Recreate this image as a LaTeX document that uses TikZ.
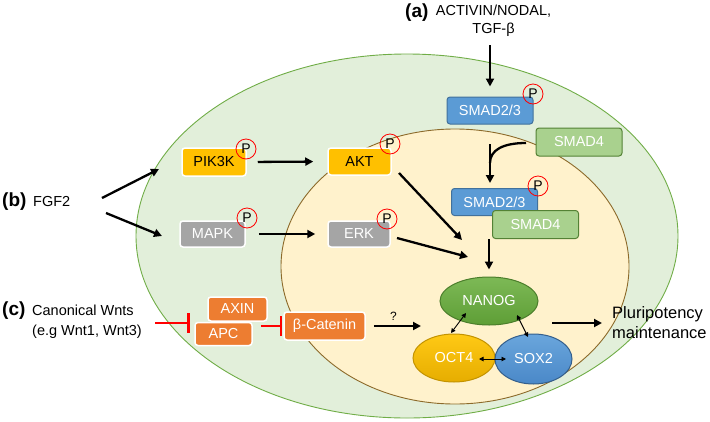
\documentclass[tikz,border=0pt]{standalone}
\usepackage{fontspec}
\setmainfont{Liberation Sans}
\usetikzlibrary{arrows.meta,shapes.geometric}
\definecolor{cellfill}{HTML}{E2EFDA}
\definecolor{cellline}{HTML}{70AD47}
\definecolor{nucfill}{HTML}{FFF2CC}
\definecolor{nucline}{HTML}{8C6A2A}
\definecolor{smadblue}{HTML}{5B9BD5}
\definecolor{smadblueline}{HTML}{41719C}
\definecolor{smadgreen}{HTML}{A9D18E}
\definecolor{smadgreenline}{HTML}{548235}
\definecolor{goldbox}{HTML}{FFC000}
\definecolor{greybox}{HTML}{A5A5A5}
\definecolor{orangebox}{HTML}{ED7D31}
\definecolor{nanogtop}{HTML}{7DB956}
\definecolor{nanogbot}{HTML}{5E9E36}
\definecolor{octtop}{HTML}{FFC915}
\definecolor{octbot}{HTML}{E6AD00}
\definecolor{soxtop}{HTML}{6AA6DC}
\definecolor{soxbot}{HTML}{4A88C8}
\begin{document}
\begin{tikzpicture}[x=1pt,y=-1pt,
  font=\fontsize{14.5}{16}\selectfont,
  box/.style={rectangle, rounded corners=3pt, inner sep=0pt, line width=1pt},
  smadb/.style={box, fill=smadblue, draw=smadblueline, text=white, minimum width=86pt, minimum height=27pt},
  smadg/.style={box, fill=smadgreen, draw=smadgreenline, text=white, minimum width=86pt, minimum height=28pt},
  goldb/.style={box, fill=goldbox, draw=white, line width=1.5pt, text=black, minimum height=27pt},
  greyb/.style={box, fill=greybox, draw=white, line width=1.5pt, text=white, minimum height=26pt},
  orangeb/.style={box, fill=orangebox, draw=white, line width=1.5pt, text=white},
  pc/.style={circle, draw=red, line width=0.8pt, minimum size=20pt, inner sep=0pt, font=\fontsize{14}{14}\selectfont},
  tf/.style={ellipse, inner sep=0pt, line width=1pt, text=white},
  arr/.style={line width=2.3pt, -{Triangle[length=8pt,width=8pt]}},
  inh/.style={draw=red, line width=2.3pt, -{Bar[width=20pt,line width=2.6pt]}},
  dbl/.style={line width=0.9pt, {Triangle[length=4.5pt,width=4.5pt]}-{Triangle[length=4.5pt,width=4.5pt]}},
  lbl/.style={font=\bfseries\fontsize{19}{19}\selectfont, inner sep=0pt}
]
\useasboundingbox (0,0) rectangle (710,421);

% cell and nucleus
\draw[fill=cellfill, draw=cellline, line width=0.9pt] (407,236) ellipse [x radius=271pt, y radius=182pt];
\draw[fill=nucfill, draw=nucline, line width=0.9pt] (455,266.5) ellipse [x radius=174pt, y radius=137.5pt];

% (a) TGF-beta branch
\node[lbl, anchor=west] (alab) at (405,13) {(a)};
\node[align=center, inner sep=0pt, font=\fontsize{14.5}{17.5}\selectfont] (atext) at (493.5,20.5) {ACTIVIN/NODAL,\\TGF-β};
\node[smadb] (s23a) at (490,110.5) {SMAD2/3};
\node[pc] (p1) at (533,94) {P};
\node[smadg] (s4a) at (579,142) {SMAD4};
\node[smadb] (s23b) at (494.5,202) {SMAD2/3};
\node[pc] (p2) at (538,186) {P};
\node[smadg] (s4b) at (535.5,224.5) {SMAD4};

\coordinate (ain) at (490,45);
\draw[arr, shorten >=10pt] (ain) -- (s23a.north);
\coordinate (jtop) at (490,144);
\coordinate (cstart) at (526,143);
\coordinate (jmerge) at (490,163);
\draw[arr, shorten >=5pt] (jtop) -- (jtop |- s23b.north);
\draw[line width=2.3pt] (cstart) .. controls (503,143) and (490,150) .. (jmerge);

% (b) FGF2 branch
\node[lbl, anchor=west] (blab) at (2,202) {(b)};
\node[anchor=west, inner sep=0pt] (fgf) at (33,202) {FGF2};
\node[goldb, minimum width=64pt, minimum height=28pt] (pik) at (214,162) {PIK3K};
\node[pc] (p3) at (246,149) {P};
\node[goldb, minimum width=63pt] (akt) at (359.5,161.5) {AKT};
\node[pc] (p4) at (390,144) {P};
\node[greyb, minimum width=65pt] (mapk) at (212.5,234) {MAPK};
\node[pc] (p5) at (247,218) {P};
\node[greyb, minimum width=62pt] (erk) at (359,234) {ERK};
\node[pc] (p6) at (387,219) {P};

\coordinate (b1s) at (102,198);
\coordinate (b1e) at (159,169);
\coordinate (b2s) at (106,213);
\coordinate (b2e) at (162,236);
\draw[arr] (b1s) -- (b1e);
\draw[arr] (b2s) -- (b2e);
\draw[arr, shorten <=11pt, shorten >=14pt] (pik.east) -- (akt.west);
\draw[arr, shorten <=13pt, shorten >=12pt] (mapk.east) -- (erk.west);
\coordinate (akts) at (399,173);
\coordinate (akte) at (462,240);
\coordinate (erks) at (397,238);
\coordinate (erke) at (468,257);
\draw[arr] (akts) -- (akte);
\draw[arr] (erks) -- (erke);

% core TFs
\node[tf, draw=nanogbot!80!black, top color=nanogtop, bottom color=nanogbot, minimum width=98pt, minimum height=48pt] (nanog) at (489,301) {NANOG};
\node[tf, draw=octbot!85!black, top color=octtop, bottom color=octbot, minimum width=82pt, minimum height=48pt] (oct) at (454,358) {OCT4};
\node[tf, draw=soxbot!70!black, top color=soxtop, bottom color=soxbot, minimum width=77pt, minimum height=50pt] (sox) at (533.5,359) {SOX2};

\coordinate (s4out) at (489,239);
\draw[arr, shorten >=7pt] (s4out) -- (nanog.north);

\coordinate (d1a) at (466,313);
\coordinate (d1b) at (451,333);
\coordinate (d2a) at (517,315);
\coordinate (d2b) at (528,337);
\coordinate (d3a) at (479,359);
\coordinate (d3b) at (506,359);
\draw[dbl] (d1a) -- (d1b);
\draw[dbl] (d2a) -- (d2b);
\draw[dbl] (d3a) -- (d3b);

% (c) Wnt branch
\node[lbl, anchor=west] (clab) at (2,311) {(c)};
\node[anchor=west, align=left, inner sep=0pt, font=\fontsize{14.5}{20}\selectfont] (wnt) at (32,322) {Canonical Wnts\\(e.g Wnt1, Wnt3)};
\node[orangeb, minimum width=59pt, minimum height=24pt] (axin) at (237.5,309) {AXIN};
\node[orangeb, minimum width=57pt, minimum height=23pt] (apc) at (223.5,334) {APC};
\node[orangeb, minimum width=81pt, minimum height=28pt] (bcat) at (324.5,326) {β-Catenin};

\coordinate (ws) at (155,323);
\coordinate (we) at (190,323);
\draw[inh] (ws) -- (we);
\draw[inh, shorten <=8pt, shorten >=1pt] (apc.east |- bcat.west) -- (bcat.west);

\coordinate (qend) at (421,326);
\draw[arr, shorten <=8pt] (bcat.east) -- (qend) node[midway, above=1pt, font=\fontsize{12}{12}\selectfont] {?};

% output
\node[anchor=west, align=left, inner sep=0pt, font=\fontsize{16.5}{20}\selectfont] (plur) at (612,323) {Pluripotency\\maintenance};
\coordinate (ps) at (552,323);
\draw[arr, shorten >=10pt] (ps) -- (plur.west);
\end{tikzpicture}
\end{document}
